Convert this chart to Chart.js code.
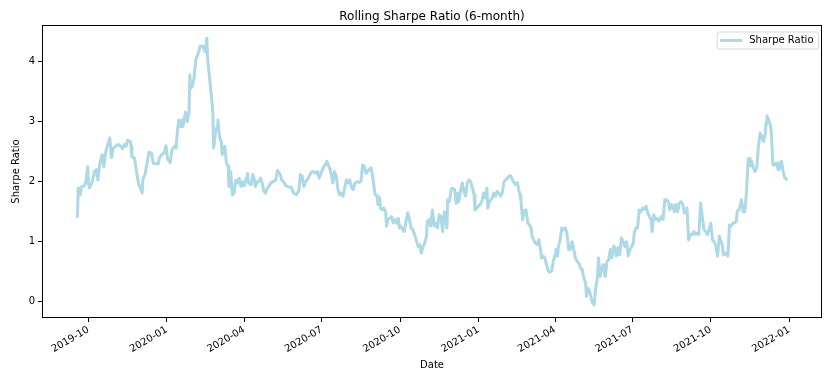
<!DOCTYPE html>
<html><head><meta charset="utf-8">
<script src="https://cdn.jsdelivr.net/npm/chart.js@4.4.1/dist/chart.umd.min.js"></script>
<style>html,body{margin:0;padding:0;background:#fff;}canvas{display:block;}</style>
</head><body>
<canvas id="c" width="839" height="378"></canvas>
<script>
const chartTitle = "Rolling Sharpe Ratio (6-month)";
const seriesLabel = "Sharpe Ratio";
const xAxisTitle = "Date";
const yAxisTitle = "Sharpe Ratio";
const xTickLabels = ["2019-10","2020-01","2020-04","2020-07","2020-10","2021-01","2021-04","2021-07","2021-10","2022-01"];
const yTickValues = [0, 1, 2, 3, 4];

const dates = [
"2019-09-18","2019-09-19","2019-09-21","2019-09-23","2019-09-26","2019-09-28","2019-09-30",
"2019-10-01","2019-10-02","2019-10-05","2019-10-08","2019-10-10","2019-10-12","2019-10-14","2019-10-17","2019-10-19","2019-10-21","2019-10-23","2019-10-26","2019-10-28","2019-10-30",
"2019-11-02","2019-11-05","2019-11-08","2019-11-10","2019-11-12","2019-11-14","2019-11-16","2019-11-19","2019-11-20","2019-11-21","2019-11-24","2019-11-26","2019-11-29",
"2019-12-01","2019-12-03","2019-12-04","2019-12-06","2019-12-09","2019-12-11","2019-12-14","2019-12-16","2019-12-19","2019-12-22","2019-12-23","2019-12-26","2019-12-29","2019-12-31",
"2020-01-02","2020-01-05","2020-01-07","2020-01-10","2020-01-12","2020-01-13","2020-01-15","2020-01-17","2020-01-19","2020-01-20","2020-01-23","2020-01-25","2020-01-27","2020-01-28","2020-01-29","2020-01-31",
"2020-02-02","2020-02-04","2020-02-07","2020-02-09","2020-02-12","2020-02-14","2020-02-15","2020-02-17","2020-02-18","2020-02-20","2020-02-22","2020-02-24","2020-02-25","2020-02-27","2020-02-29",
"2020-03-01","2020-03-03","2020-03-05","2020-03-06","2020-03-07","2020-03-09","2020-03-11","2020-03-13","2020-03-14","2020-03-16","2020-03-18","2020-03-20","2020-03-22","2020-03-24","2020-03-26","2020-03-28","2020-03-30",
"2020-04-01","2020-04-03","2020-04-05","2020-04-06","2020-04-09","2020-04-11","2020-04-13","2020-04-14","2020-04-16","2020-04-18","2020-04-20","2020-04-22","2020-04-24","2020-04-26","2020-04-28","2020-04-30",
"2020-05-02","2020-05-05","2020-05-08","2020-05-10","2020-05-11","2020-05-13","2020-05-15","2020-05-17","2020-05-20","2020-05-23","2020-05-26","2020-05-29",
"2020-06-01","2020-06-04","2020-06-06","2020-06-08","2020-06-10","2020-06-12","2020-06-14","2020-06-16","2020-06-19","2020-06-21","2020-06-24","2020-06-26","2020-06-28","2020-06-30",
"2020-07-03","2020-07-05","2020-07-07","2020-07-09","2020-07-11","2020-07-13","2020-07-14","2020-07-16","2020-07-18","2020-07-20","2020-07-22","2020-07-24","2020-07-26","2020-07-28","2020-07-30",
"2020-08-01","2020-08-03","2020-08-05","2020-08-07","2020-08-09","2020-08-11","2020-08-14","2020-08-16","2020-08-18","2020-08-20","2020-08-22","2020-08-24","2020-08-26","2020-08-28","2020-08-30",
"2020-09-01","2020-09-02","2020-09-04","2020-09-05","2020-09-07","2020-09-08","2020-09-10","2020-09-12","2020-09-14","2020-09-15","2020-09-17","2020-09-19","2020-09-21","2020-09-23","2020-09-25","2020-09-27","2020-09-29","2020-09-30",
"2020-10-02","2020-10-04","2020-10-06","2020-10-08","2020-10-10","2020-10-12","2020-10-14","2020-10-16","2020-10-18","2020-10-20","2020-10-22","2020-10-24","2020-10-26","2020-10-28","2020-10-30",
"2020-11-01","2020-11-02","2020-11-04","2020-11-06","2020-11-08","2020-11-10","2020-11-12","2020-11-14","2020-11-16","2020-11-18","2020-11-20","2020-11-22","2020-11-24","2020-11-25","2020-11-26","2020-11-28","2020-11-30",
"2020-12-01","2020-12-04","2020-12-06","2020-12-08","2020-12-09","2020-12-11","2020-12-13","2020-12-15","2020-12-17","2020-12-19","2020-12-21","2020-12-23","2020-12-25","2020-12-27","2020-12-28","2020-12-30",
"2021-01-01","2021-01-03","2021-01-05","2021-01-07","2021-01-09","2021-01-11","2021-01-12","2021-01-14","2021-01-16","2021-01-18","2021-01-19","2021-01-21","2021-01-23","2021-01-25","2021-01-27","2021-01-29","2021-01-31",
"2021-02-02","2021-02-04","2021-02-06","2021-02-08","2021-02-10","2021-02-12","2021-02-14","2021-02-16","2021-02-17","2021-02-19","2021-02-20","2021-02-22","2021-02-24","2021-02-26","2021-02-28",
"2021-03-02","2021-03-04","2021-03-05","2021-03-07","2021-03-09","2021-03-11","2021-03-13","2021-03-15","2021-03-16","2021-03-18","2021-03-20","2021-03-22","2021-03-24","2021-03-26","2021-03-28","2021-03-30",
"2021-04-01","2021-04-02","2021-04-04","2021-04-05","2021-04-07","2021-04-09","2021-04-11","2021-04-13","2021-04-15","2021-04-17","2021-04-19","2021-04-21","2021-04-23","2021-04-25","2021-04-27","2021-04-29",
"2021-05-01","2021-05-03","2021-05-05","2021-05-07","2021-05-08","2021-05-09","2021-05-11","2021-05-13","2021-05-15","2021-05-17","2021-05-19","2021-05-21","2021-05-22","2021-05-24","2021-05-26","2021-05-28","2021-05-30",
"2021-06-01","2021-06-03","2021-06-05","2021-06-07","2021-06-09","2021-06-11","2021-06-12","2021-06-14","2021-06-16","2021-06-18","2021-06-20","2021-06-22","2021-06-24","2021-06-26","2021-06-28","2021-06-30",
"2021-07-02","2021-07-03","2021-07-05","2021-07-07","2021-07-09","2021-07-11","2021-07-13","2021-07-15","2021-07-17","2021-07-19","2021-07-21","2021-07-23","2021-07-24","2021-07-26","2021-07-28","2021-07-30",
"2021-08-01","2021-08-02","2021-08-04","2021-08-06","2021-08-08","2021-08-10","2021-08-12","2021-08-14","2021-08-16","2021-08-18","2021-08-19","2021-08-21","2021-08-23","2021-08-25","2021-08-27","2021-08-29","2021-08-31",
"2021-09-02","2021-09-03","2021-09-05","2021-09-07","2021-09-09","2021-09-11","2021-09-13","2021-09-15","2021-09-17","2021-09-19","2021-09-21","2021-09-23","2021-09-25","2021-09-27","2021-09-29",
"2021-10-01","2021-10-03","2021-10-05","2021-10-07","2021-10-09","2021-10-11","2021-10-13","2021-10-14","2021-10-16","2021-10-18","2021-10-20","2021-10-21","2021-10-23","2021-10-25","2021-10-27","2021-10-29","2021-10-31",
"2021-11-01","2021-11-03","2021-11-05","2021-11-06","2021-11-08","2021-11-10","2021-11-12","2021-11-14","2021-11-16","2021-11-17","2021-11-18","2021-11-20","2021-11-22","2021-11-24","2021-11-26","2021-11-28","2021-11-29",
"2021-12-02","2021-12-04","2021-12-05","2021-12-06","2021-12-08","2021-12-10","2021-12-11","2021-12-13","2021-12-15","2021-12-17","2021-12-19","2021-12-20","2021-12-22","2021-12-23","2021-12-25","2021-12-27","2021-12-29"
];

const sharpe = [
1.42,1.90,1.78,1.92,1.93,2.00,2.25,
1.98,1.90,1.98,2.17,2.20,2.03,2.28,2.45,2.25,2.48,2.59,2.73,2.40,2.56,
2.59,2.62,2.59,2.55,2.62,2.59,2.69,2.67,2.59,2.42,2.39,2.20,1.95,
1.90,1.81,2.06,2.10,2.32,2.49,2.48,2.31,2.30,2.30,2.39,2.45,2.49,2.60,
2.37,2.32,2.53,2.59,2.56,2.78,3.03,2.92,3.03,2.92,3.16,3.00,3.14,3.78,3.56,3.59,
3.73,4.03,4.14,4.26,4.26,4.20,4.17,4.39,4.03,3.76,3.48,3.17,2.56,2.81,2.92,
3.03,2.73,2.67,2.45,2.50,2.59,2.31,2.26,1.92,2.17,1.78,1.81,2.03,1.98,2.06,1.92,2.00,
1.93,2.03,2.14,1.98,1.95,2.12,2.03,1.92,2.00,2.00,2.06,1.98,1.84,1.81,1.89,1.92,
1.98,2.00,2.03,2.19,2.17,2.12,2.03,2.00,1.93,1.91,1.91,1.81,
1.78,1.85,2.12,2.09,1.92,2.00,2.03,2.09,2.16,2.17,2.14,2.17,2.06,2.14,
2.24,2.28,2.34,2.26,2.20,2.06,1.98,2.17,2.09,1.87,1.78,1.81,1.76,1.90,2.03,
1.98,2.03,1.90,1.87,1.98,2.00,1.99,2.00,2.28,2.26,2.14,2.17,2.21,2.23,2.07,
1.84,1.78,1.76,1.62,1.73,1.56,1.53,1.56,1.50,1.26,1.37,1.39,1.42,1.31,1.37,1.31,1.39,1.23,
1.26,1.20,1.17,1.34,1.48,1.37,1.23,1.20,1.12,1.03,0.92,0.95,0.81,0.92,0.98,
1.09,1.34,1.37,1.26,1.53,1.26,1.31,1.23,1.45,1.42,1.17,1.50,1.42,1.23,1.70,1.67,1.87,
1.89,1.87,1.64,1.81,1.67,1.84,1.98,1.84,1.76,1.98,2.03,2.00,1.89,1.78,1.53,1.56,
1.59,1.62,1.67,1.81,1.73,1.89,1.56,1.67,1.70,1.76,1.81,1.76,1.84,1.81,1.76,1.81,2.00,
2.03,2.06,2.09,2.10,2.03,1.98,1.95,1.98,1.89,1.78,1.67,1.37,1.52,1.53,1.31,
1.28,1.23,1.09,1.03,0.98,0.95,1.03,0.87,0.73,0.76,0.73,0.62,0.51,0.49,0.51,0.67,
0.78,0.87,0.76,0.92,1.03,1.23,1.20,1.23,1.14,0.87,0.87,1.00,0.87,0.73,0.67,0.64,
0.56,0.53,0.39,0.31,0.09,0.23,0.20,0.09,-0.02,-0.05,0.25,0.42,0.73,0.42,0.56,0.62,0.42,
0.67,0.70,0.87,0.73,0.93,0.87,0.76,0.90,0.78,1.06,1.00,0.92,1.00,0.76,0.87,0.92,
0.98,1.14,1.23,1.23,1.53,1.50,1.56,1.54,1.59,1.48,1.42,1.37,1.17,1.45,1.37,1.39,
1.34,1.37,1.42,1.37,1.70,1.70,1.67,1.53,1.62,1.59,1.50,1.62,1.50,1.64,1.67,1.62,1.48,
1.48,1.56,1.03,1.12,1.12,1.17,1.12,1.14,1.12,1.64,1.42,1.20,1.17,1.12,1.20,
1.31,1.03,1.00,0.92,0.76,1.09,1.00,0.98,0.78,0.81,0.78,0.76,1.28,1.26,1.31,1.31,1.34,
1.50,1.53,1.62,1.70,1.50,1.50,1.85,2.38,2.39,2.26,2.34,2.23,2.17,2.23,2.59,2.81,2.78,
2.67,2.81,2.98,3.10,3.03,2.95,2.84,2.28,2.28,2.31,2.20,2.31,2.23,2.34,2.17,2.06,2.04
];

if (dates.length !== sharpe.length) console.error("length mismatch", dates.length, sharpe.length);

const FONT = "'DejaVu Sans', sans-serif";
const LINE_COLOR = "#add8e6";

function toTime(s) {
  const p = s.split("-").map(Number);
  return Date.UTC(p[0], p[1] - 1, p.length > 2 ? p[2] : 1);
}

const points = dates.map((d, i) => ({ x: toTime(d), y: sharpe[i] }));
const xVals = points.map(p => p.x);
const xMin = Math.min(...xVals), xMax = Math.max(...xVals);
const xPad = (xMax - xMin) * 0.05;
const yMin = Math.min(...sharpe), yMax = Math.max(...sharpe);
const yPad = (yMax - yMin) * 0.05;

const decorPlugin = {
  id: "decor",
  afterDatasetsDraw(chart) {
    const { ctx, chartArea: a } = chart;
    ctx.save();
    ctx.strokeStyle = "#000";
    ctx.lineWidth = 1;
    const l = Math.round(a.left) + 0.5, t = Math.round(a.top) + 0.5;
    const r = Math.round(a.right) - 0.5, b = Math.round(a.bottom) - 0.5;
    ctx.strokeRect(l, t, r - l, b - t);
    ctx.fillStyle = "#000";
    ctx.font = "12px " + FONT;
    ctx.textAlign = "center";
    ctx.textBaseline = "middle";
    ctx.fillText(chartTitle, (a.left + a.right) / 2, a.top - 8.5);
    ctx.font = "10px " + FONT;
    const tw = ctx.measureText(seriesLabel).width;
    const boxR = a.right - 4, boxT = a.top + 6.5;
    const boxW = 3 + 22 + 7 + tw + 5, boxH = 17;
    const boxL = boxR - boxW;
    ctx.beginPath();
    if (ctx.roundRect) ctx.roundRect(boxL + 0.5, boxT + 0.5, boxW, boxH, 2);
    else ctx.rect(boxL + 0.5, boxT + 0.5, boxW, boxH);
    ctx.fillStyle = "rgba(255,255,255,0.8)";
    ctx.fill();
    ctx.strokeStyle = "#d6d6d6";
    ctx.stroke();
    const ly = boxT + boxH / 2 + 0.5;
    ctx.strokeStyle = LINE_COLOR;
    ctx.lineWidth = 3;
    ctx.beginPath();
    ctx.moveTo(boxL + 3.5, ly);
    ctx.lineTo(boxL + 25.5, ly);
    ctx.stroke();
    ctx.fillStyle = "#000";
    ctx.textAlign = "left";
    ctx.textBaseline = "middle";
    ctx.fillText(seriesLabel, boxL + 32.5, ly);
    ctx.restore();
  }
};

new Chart(document.getElementById("c"), {
  type: "line",
  data: {
    datasets: [{
      label: seriesLabel,
      data: points,
      borderColor: LINE_COLOR,
      backgroundColor: LINE_COLOR,
      borderWidth: 3,
      pointRadius: 0,
      tension: 0,
      fill: false,
      borderJoinStyle: "round",
      borderCapStyle: "round"
    }]
  },
  options: {
    responsive: false,
    animation: false,
    devicePixelRatio: 1,
    layout: { padding: { top: 25, right: 17, left: 0, bottom: 0 } },
    plugins: { legend: { display: false }, title: { display: false }, tooltip: { enabled: false } },
    scales: {
      x: {
        type: "linear",
        min: xMin - xPad,
        max: xMax + xPad,
        afterBuildTicks: s => { s.ticks = xTickLabels.map(l => ({ value: toTime(l) })); },
        afterFit: s => { s.height = 60; },
        grid: { display: true, drawOnChartArea: false, drawTicks: true, tickLength: 4, tickColor: "#000", tickWidth: 1 },
        border: { display: false },
        ticks: {
          autoSkip: false, minRotation: 30, maxRotation: 30, padding: 2,
          color: "#000", font: { family: FONT, size: 10 },
          callback: (v, i) => xTickLabels[i]
        },
        title: { display: true, text: xAxisTitle, color: "#000", font: { family: FONT, size: 10 }, padding: { top: 0, bottom: 7 } }
      },
      y: {
        type: "linear",
        min: yMin - yPad,
        max: yMax + yPad,
        afterBuildTicks: s => { s.ticks = yTickValues.map(v => ({ value: v })); },
        afterFit: s => { s.width = 42; },
        grid: { display: true, drawOnChartArea: false, drawTicks: true, tickLength: 4, tickColor: "#000", tickWidth: 1 },
        border: { display: false },
        ticks: { color: "#000", font: { family: FONT, size: 10 }, padding: 3, callback: v => String(v) },
        title: { display: true, text: yAxisTitle, color: "#000", font: { family: FONT, size: 10 }, padding: { top: 10, bottom: 0 } }
      }
    }
  },
  plugins: [decorPlugin]
});
</script>
</body></html>
